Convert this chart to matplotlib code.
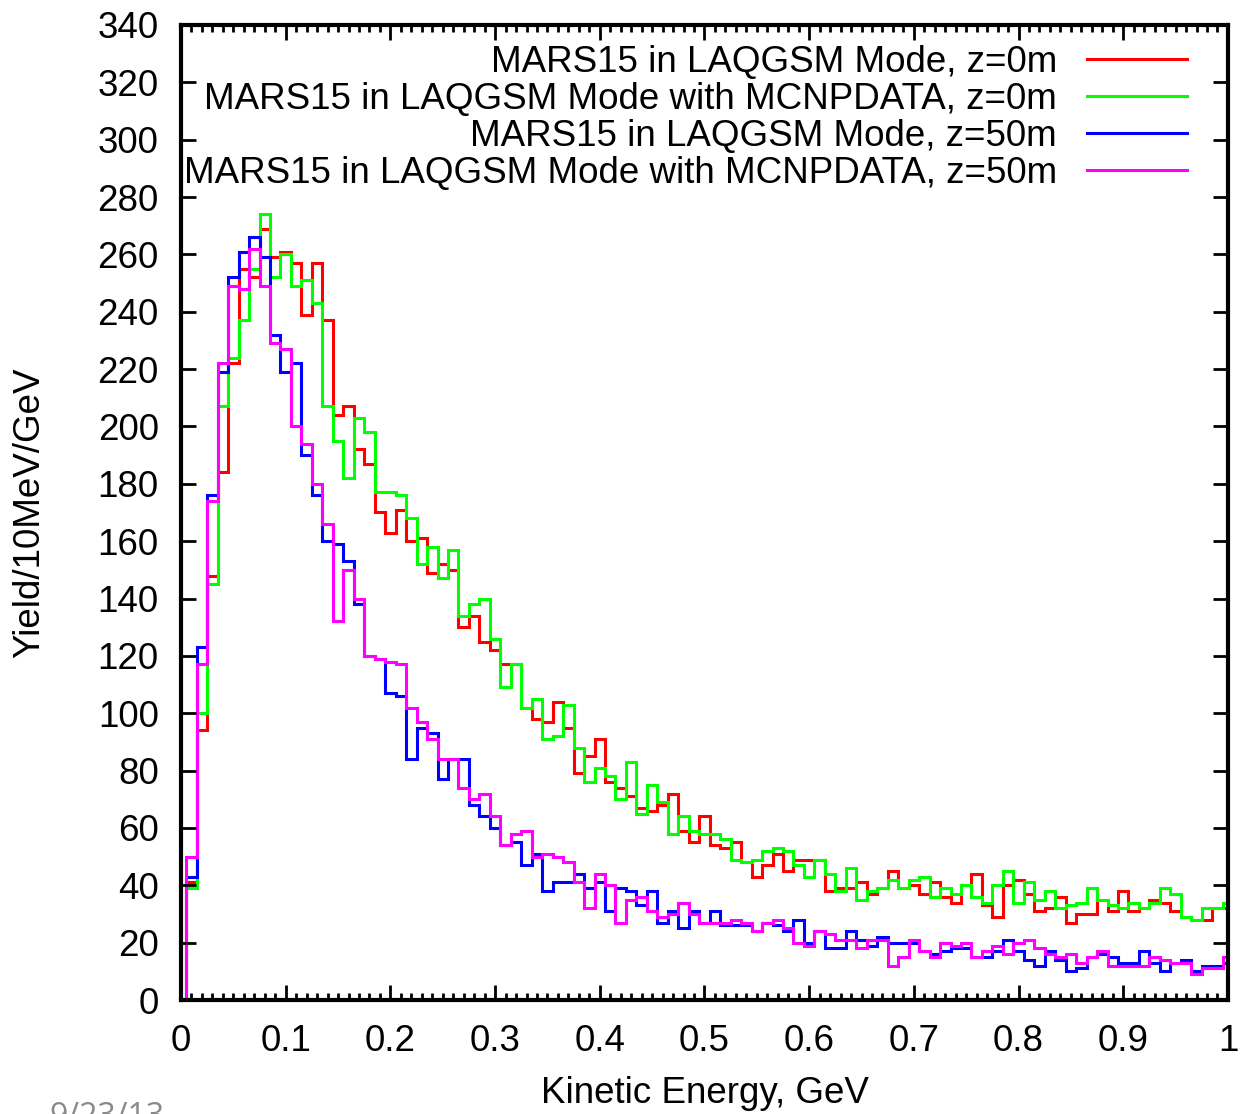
import matplotlib
matplotlib.use("Agg")
import matplotlib.pyplot as plt
import numpy as np

plt.rcParams['font.family'] = ['Liberation Sans', 'DejaVu Sans']

# 100 bins, 10 MeV wide, centred on 0.01 .. 1.00 GeV
bin_width = 0.01
bin_centres = np.round(np.arange(1, 101) * bin_width, 3)

labels = ['MARS15 in LAQGSM Mode, z=0m',
          'MARS15 in LAQGSM Mode with MCNPDATA, z=0m',
          'MARS15 in LAQGSM Mode, z=50m',
          'MARS15 in LAQGSM Mode with MCNPDATA, z=50m']
colors = ['#ff0000', '#00ff00', '#0000ff', '#ff00ff']

laqgsm_z0 = [41, 94, 148, 184, 222, 255, 252, 269, 259, 261,
             257, 239, 257, 237, 204, 207, 192, 187, 170, 163,
             171, 160, 161, 149, 152, 150, 130, 134, 125, 122,
             117, 117, 102, 98, 97, 104, 95, 79, 85, 91,
             76, 74, 71, 67, 66, 68, 72, 59, 55, 64,
             54, 53, 55, 48, 43, 47, 51, 45, 49, 49,
             49, 38, 39, 39, 41, 37, 39, 45, 39, 40,
             37, 41, 36, 34, 40, 44, 33, 29, 40, 42,
             37, 31, 32, 36, 27, 30, 30, 35, 31, 38,
             31, 32, 35, 34, 31, 29, 28, 28, 32, 32]

mcnp_z0 = [39, 100, 145, 207, 224, 237, 255, 274, 252, 260,
           249, 251, 243, 207, 195, 182, 203, 198, 177, 177,
           176, 168, 152, 158, 147, 157, 134, 138, 140, 126,
           109, 117, 102, 105, 91, 92, 103, 88, 76, 81,
           78, 70, 83, 65, 75, 69, 58, 64, 59, 58,
           58, 56, 49, 48, 49, 52, 53, 52, 47, 43,
           49, 44, 38, 46, 35, 38, 39, 42, 39, 42,
           43, 36, 39, 37, 40, 36, 34, 40, 45, 34,
           41, 35, 38, 32, 33, 34, 39, 35, 33, 32,
           34, 32, 34, 39, 37, 29, 28, 32, 32, 34]

laqgsm_z50 = [43, 123, 176, 219, 252, 261, 266, 259, 232, 219,
              222, 190, 176, 160, 159, 153, 138, 120, 119, 107,
              106, 84, 95, 93, 77, 84, 84, 68, 64, 60,
              54, 55, 47, 51, 38, 41, 41, 44, 39, 41,
              31, 39, 38, 33, 38, 27, 31, 25, 31, 27,
              31, 26, 26, 26, 24, 27, 26, 24, 28, 20,
              24, 18, 18, 24, 21, 19, 22, 20, 20, 20,
              17, 16, 17, 18, 18, 15, 15, 17, 21, 17,
              14, 12, 17, 14, 10, 11, 15, 16, 15, 13,
              13, 17, 13, 10, 13, 14, 10, 12, 12, 13]

mcnp_z50 = [50, 117, 174, 222, 249, 248, 262, 249, 229, 227,
            200, 194, 180, 166, 132, 150, 140, 120, 119, 118,
            117, 102, 97, 91, 84, 84, 74, 70, 72, 64,
            54, 58, 59, 50, 51, 50, 48, 41, 32, 44,
            40, 27, 35, 36, 31, 29, 30, 34, 30, 27,
            27, 27, 28, 27, 24, 27, 28, 25, 20, 19,
            24, 23, 21, 21, 18, 21, 21, 12, 15, 21,
            17, 15, 20, 19, 20, 15, 17, 19, 16, 20,
            21, 18, 16, 15, 16, 13, 15, 17, 12, 12,
            12, 12, 15, 14, 13, 13, 9, 11, 11, 15]

series = [laqgsm_z0, mcnp_z0, laqgsm_z50, mcnp_z50]

xticks = np.round(np.arange(0, 1.01, 0.1), 1)
xtick_labels = ['0', '0.1', '0.2', '0.3', '0.4', '0.5', '0.6', '0.7', '0.8', '0.9', '1']
yticks = np.arange(0, 341, 20)

fig = plt.figure(figsize=(12.45, 11.14), dpi=100)
ax = fig.add_axes([0.1454, 0.1023, 0.8409, 0.8753])

edges = np.append(bin_centres - bin_width / 2, bin_centres[-1] + bin_width / 2)
for vals, col in zip(series, colors):
    ax.stairs(vals, edges, baseline=0, color=col, lw=2.2)

ax.set_xlim(0, 1)
ax.set_ylim(0, 340)
ax.set_xticks(xticks)
ax.set_xticklabels(xtick_labels)
ax.set_xticks(np.round(np.arange(0, 1.001, 0.01), 2), minor=True)
ax.set_yticks(yticks)
ax.tick_params(which='both', direction='in', top=True, right=True,
               labelsize=26.5, width=2)
ax.tick_params(which='major', length=11)
ax.tick_params(which='minor', length=5)
ax.tick_params(axis='x', pad=17)
ax.tick_params(axis='y', pad=16)
for sp in ax.spines.values():
    sp.set_linewidth(3)

ax.set_xlabel('Kinetic Energy, GeV', fontsize=26.5)
ax.set_ylabel('Yield/10MeV/GeV', fontsize=26.5)
ax.xaxis.set_label_coords(0.5, -0.078)
ax.yaxis.set_label_coords(-0.128, 0.5)

# gnuplot style key: right aligned text, sample line on the right
row_y = [0.965, 0.927, 0.889, 0.851]
for lab, col, ry in zip(labels, colors, row_y):
    ax.plot([0.8653, 0.9608], [ry, ry], color=col, lw=2.2,
            transform=ax.transAxes, clip_on=False)
    ax.text(0.8367, ry - 0.0135, lab, ha='right', va='baseline',
            fontsize=26.5, transform=ax.transAxes)

# slide date footer, cut by the bottom edge as in the original
fig.text(0.04, 0.0117, '9/23/13', ha='left', va='top', fontsize=23,
         color='#8a8a8a', family=['Open Sans', 'DejaVu Sans'])

fig.savefig('out.png', dpi=100)
